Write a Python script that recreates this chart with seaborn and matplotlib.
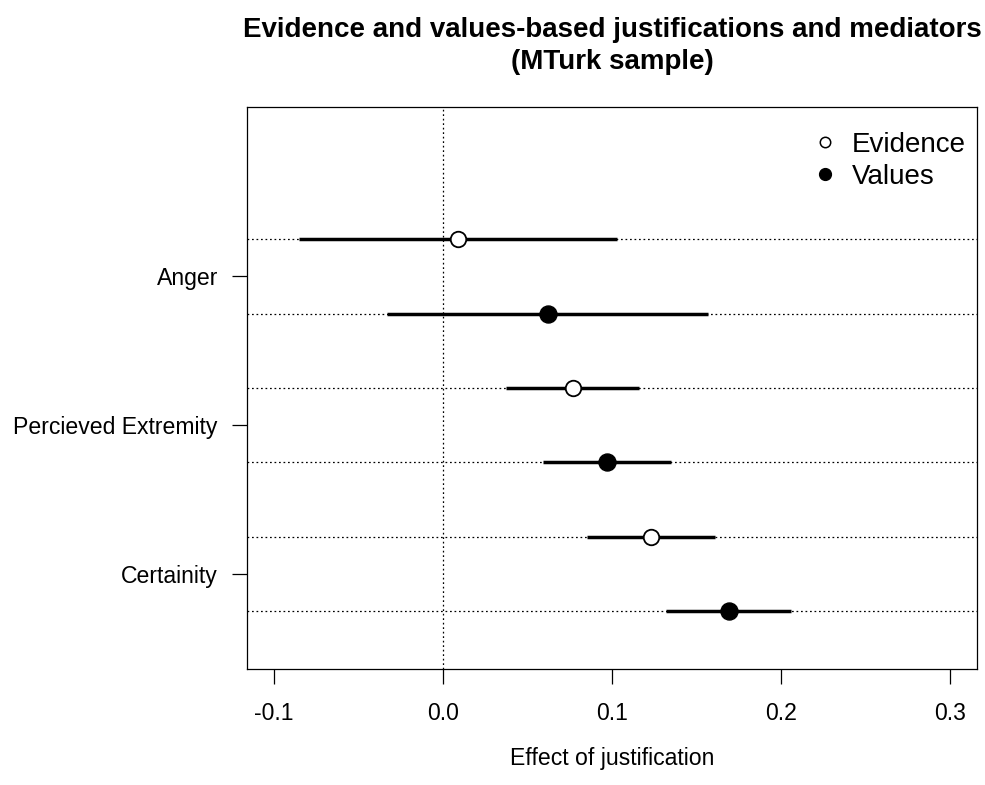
"""Forest-style plot: evidence vs values justification effects on mediators (MTurk sample)."""

from matplotlib import pyplot as plt
import seaborn as sns
import pandas as pd

categories = ["Anger", "Percieved Extremity", "Certainity"]
evidence_est = [0.009, 0.077, 0.123]
evidence_lo = [-0.085, 0.037, 0.085]
evidence_hi = [0.103, 0.116, 0.161]
values_est = [0.062, 0.097, 0.169]
values_lo = [-0.033, 0.059, 0.132]
values_hi = [0.157, 0.135, 0.206]
x_ticks = [-0.1, 0.0, 0.1, 0.2, 0.3]

sns.set_style("white")
plt.rcParams["font.family"] = ["Liberation Sans", "DejaVu Sans"]
plt.rcParams["text.color"] = "black"
plt.rcParams["axes.labelcolor"] = "black"

# one row per (mediator, justification); rows 1..6 from top
rows = []
for i, cat in enumerate(categories):
    rows.append(dict(mediator=cat, group="Evidence", est=evidence_est[i],
                     lo=evidence_lo[i], hi=evidence_hi[i], pos=2 * i + 1))
    rows.append(dict(mediator=cat, group="Values", est=values_est[i],
                     lo=values_lo[i], hi=values_hi[i], pos=2 * i + 2))
df = pd.DataFrame(rows)

fig = plt.figure(figsize=(9.85, 7.85), dpi=100)
ax = fig.add_axes([0.2508, 0.1478, 0.9919 - 0.2508, 0.8637 - 0.1478])

dots = (0, (1.4, 2.2))
for p in df["pos"]:
    ax.axhline(p, color="black", lw=0.9, linestyle=dots, zorder=1)
ax.axvline(0, color="black", lw=0.9, linestyle=dots, zorder=1)

ax.hlines(df["pos"], df["lo"], df["hi"], color="black", lw=2.5, zorder=2)

ev = df[df["group"] == "Evidence"]
va = df[df["group"] == "Values"]
sns.scatterplot(data=ev, x="est", y="pos", ax=ax, s=125, marker="o",
                facecolor="white", edgecolor="black", linewidth=1.3, zorder=3,
                legend=False)
sns.scatterplot(data=va, x="est", y="pos", ax=ax, s=150, marker="o",
                color="black", edgecolor="black", linewidth=1.0, zorder=3,
                legend=False)

ax.set_xlim(-0.116, 0.316)
ax.set_ylim(6.78, -0.78)
ax.set_xticks(x_ticks)
ax.set_xticklabels([f"{t:.1f}" for t in x_ticks])
ax.set_yticks([1.5, 3.5, 5.5])
ax.set_yticklabels(categories)
ax.tick_params(axis="x", direction="out", length=10.5, width=0.9, pad=13,
               labelsize=16.6, bottom=True, colors="black")
ax.tick_params(axis="y", direction="out", length=11, width=0.9, pad=10,
               labelsize=16.6, left=True, colors="black")
for sp in ax.spines.values():
    sp.set_color("black")
    sp.set_linewidth(0.9)
    sp.set_visible(True)

ax.set_xlabel("Effect of justification", fontsize=16.6, labelpad=16, color="black")
ax.set_ylabel("")
ax.set_title("Evidence and values-based justifications and mediators\n(MTurk sample)",
             fontsize=20, fontweight="bold", linespacing=1.3, pad=27, color="black")

h_ev = plt.Line2D([], [], marker="o", ls="", markersize=7.5,
                  markerfacecolor="white", markeredgecolor="black", markeredgewidth=1.1)
h_va = plt.Line2D([], [], marker="o", ls="", markersize=8.5,
                  markerfacecolor="black", markeredgecolor="black")
ax.legend([h_ev, h_va], ["Evidence", "Values"], loc="upper right",
          bbox_to_anchor=(1.011, 0.99), frameon=False, fontsize=20,
          handlelength=1.0, handletextpad=0.45, labelspacing=0.22,
          borderaxespad=0.3)

fig.savefig("out.png", dpi=100)
